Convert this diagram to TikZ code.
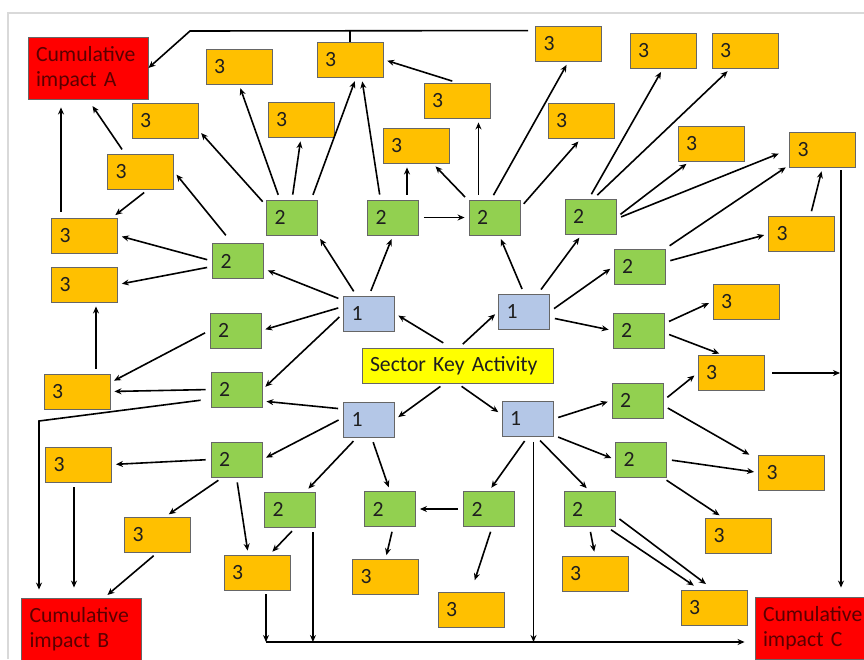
\documentclass[tikz,border=0pt]{standalone}
\usepackage{fontspec}
\setmainfont{Carlito}
\usepackage{tikz}
\usetikzlibrary{arrows.meta}
\definecolor{keyYellow}{HTML}{FFFF00}
\definecolor{lvlOne}{HTML}{B4C7E7}
\definecolor{lvlTwo}{HTML}{92D050}
\definecolor{lvlThree}{HTML}{FFC000}
\definecolor{impactRed}{HTML}{FF0000}
\definecolor{impactText}{HTML}{5A0000}
\tikzset{
    box/.style={rectangle, draw=black!60, line width=0.9pt, inner xsep=8pt, inner ysep=0pt, align=left, text=black!88, font=\fontsize{21.7}{25}\selectfont, execute at begin node={\hyphenpenalty10000\relax}},
    impact/.style={box, fill=impactRed, text=impactText, text width=104pt, minimum height=62pt},
    keyact/.style={box, fill=keyYellow, text width=175pt, minimum height=35pt},
    lvlone/.style={box, fill=lvlOne, text width=35pt, minimum height=35pt},
    lvltwo/.style={box, fill=lvlTwo, text width=35pt, minimum height=35pt},
    lvlthree/.style={box, fill=lvlThree, text width=50pt, minimum height=35pt},
    link/.style={-{Stealth[length=7pt,width=6pt]}, line width=1.6pt, shorten <=5pt, shorten >=4pt},
    feed/.style={-{Stealth[length=7pt,width=6pt]}, line width=1.6pt},
    wire/.style={line width=1.6pt}
}
\begin{document}
\begin{tikzpicture}[x=1pt, y=-1pt]
        \clip (0,0) rectangle (864,659);
        % Frame
        \draw[gray!30, line width=1.5pt] (8,659) -- (8,13) -- (864,13);

        % Centre and cumulative impacts
        \node[keyact] (ska) at (457.5,365.5) {Sector Key Activity};
        \node[impact] (cumA) at (88,68) {Cumulative\\impact A};
        \node[impact] (cumB) at (81.5,629) {Cumulative\\impact B};
        \node[impact] (cumC) at (815,628) {Cumulative\\impact C};

        % Level 1
        \foreach \n/\x/\y in {s1/369/313.5, s2/524/311.5, s3/369/419.5, s4/527.5/419}
            \node[lvlone] (\n) at (\x,\y) {1};

        % Level 2
        \foreach \n/\x/\y in {m1/292/217.5, m2/393/217.5, m3/494.5/217.5, m4/590.5/216.5,
            m5/238/261, m6/235.5/330.5, m7/236.5/389.5, m8/639.5/266.5, m9/638.5/330.5,
            m10/637.5/400.5, m11/236.5/459.5, m12/290/509.5, m13/390/509, m14/489/509,
            m15/589.5/509, m16/641/459.5}
            \node[lvltwo] (\n) at (\x,\y) {2};

        % Level 3
        \foreach \n/\x/\y in {t1/239/66.5, t2/350/59.5, t3/457/100.5, t4/568.5/43.5,
            t5/663/50.5, t6/745/50.5, t7/165/120.5, t8/301/119.5, t9/416/145.5,
            t10/581/120.5, t11/711/143.5, t12/822.5/149.5, t13/140.5/171.5,
            t14/84.5/235.5, t15/84.5/284.5, t16/801.5/234, t17/746/301.5, t18/731/373,
            t19/77/391.5, t20/78.5/464.5, t21/157.5/534.5, t22/257/572.5,
            t23/385.5/577, t24/471/609.5, t25/595/573.5, t26/791.5/472.5,
            t27/738.5/535.5, t28/714/608}
            \node[lvlthree] (\n) at (\x,\y) {3};

        % Joints of the collecting lines
        \coordinate (topL) at (190,31);
        \coordinate (botL) at (266,642);
        \coordinate (leftB) at (39,421);
        \coordinate (rightV) at ([xshift=18.5pt,yshift=-3pt]t12.south);
        \coordinate (m2pin) at ([xshift=14pt]m2.north);
        \coordinate (m3pin) at ([xshift=-16pt]m3.north);
        \coordinate (m12pin) at ([xshift=-3pt]m12.south east);
        \coordinate (s4pin) at ([xshift=6pt]s4.south);
        \coordinate (t14pin) at ([xshift=-23.5pt]t14.north);
        \coordinate (t19pin) at ([xshift=19pt]t19.north);
        \coordinate (t20pin) at ([xshift=-4.5pt]t20.south);

        % Key activity to level 1
        \draw[link, shorten <=9pt] (ska.110) -- (s1.east);
        \draw[link] (ska.85) -- (s2.west);
        \draw[link] (ska.234) -- (s3.east);
        \draw[link] (ska.south) -- (s4.170);

        % Level 1 to level 2
        \draw[link] (s1.125) -- (m1.south east);
        \draw[link] (s1.north) -- (m2.south);
        \draw[link] (s1.153) -- (m5.-17);
        \draw[link] (s1.165) -- (m6.east);
        \draw[link] (s1.west) -- (m7.east);
        \draw[link] (s3.158) -- (m7.-24);
        \draw[link] (s3.176) -- (m11.east);
        \draw[link] (s3.236) -- (m12.49);
        \draw[link] (s3.278) -- (m13.north);
        \draw[link] (s2.north) -- (m3.285);
        \draw[link] (s2.52) -- (m4.244);
        \draw[link] (s2.east) -- (m8.west);
        \draw[link] (s2.-13) -- (m9.west);
        \draw[link] (s4.east) -- (m10.west);
        \draw[link] (s4.-32) -- (m16.west);
        \draw[link] (s4.297) -- (m15.north);
        \draw[link] (s4.south) -- (m14.north);
        \draw[link] (m2.east) -- (m3.west);
        \draw[link] (m14.west) -- (m13.east);

        % Level 2 to level 3, top
        \draw[link] (m1.155) -- (t7.-16);
        \draw[link] (m1.124) -- (t1.south);
        \draw[link] (m1.north) -- (t8.south);
        \draw[link] (m1.43) -- (t2.-71);
        \draw[link] (m2.125) -- (t2.-57);
        \draw[link] (m2pin) -- (m2pin |- t9.south);
        \draw[link] (m3.147) -- (t9.-47);
        \draw[link] (m3pin) -- (m3pin |- t3.south);
        \draw[link] (m3.101) -- (t4.south);
        \draw[link] (m3.21) -- (t10.south);
        \draw[link] (t3.north) -- (t2.east);
        \draw[link] (m4.95) -- (t5.south);
        \draw[link] (m4.80) -- (t6.231);
        \draw[link] (m4.-2) -- (t11.220);
        \draw[link, shorten >=11pt] (m4.-5) -- (t12.west);

        % Level 2 to level 3, right
        \draw[link] (m8.north east) -- (t12.205);
        \draw[link] (m8.10) -- (t16.west);
        \draw[link] (t16.64) -- (t12.south);
        \draw[link] (m9.15) -- (t17.west);
        \draw[link] (m9.-5) -- (t18.114);
        \draw[link] (m10.east) -- (t18.west);
        \draw[link, shorten >=10pt] (m10.-11) -- (t26.159);
        \draw[link] (m16.east) -- (t26.west);
        \draw[link] (m16.-40) -- (t27.131);

        % Level 2 to level 3, bottom
        \draw[link] (m15.south) -- (t25.north);
        \draw[link, shorten >=10pt] (m15.-15) -- (t28.north);
        \draw[link, shorten >=8pt] (m15.-46) -- (t28.127);
        \draw[link] (m13.-80) -- (t23.north);
        \draw[link, shorten >=12pt] (m14.-80) -- (t24.north);
        \draw[link] (m12.-73) -- (t22.55);
        \draw[link] (m11.west) -- (t20.east);
        \draw[link] (m11.232) -- (t21.66);
        \draw[link] (m11.south) -- (t22.116);

        % Level 2 to level 3, left
        \draw[link] (m5.west) -- (t14.east);
        \draw[link] (m5.192) -- (t15.east);
        \draw[link, shorten <=10pt] (m5.108) -- (t13.east);
        \draw[link] (m6.west) -- (t19.15);
        \draw[link] (m7.west) -- (t19.east);
        \draw[link] (t19pin) -- (t19pin |- t15.south);
        \draw[link] (t13.-67) -- (t14.33);

        % Into cumulative impact A
        \draw[link, shorten >=8pt] (t13.131) -- (cumA.south);
        \draw[link, shorten <=6pt, shorten >=8pt] (t14pin) -- (t14pin |- cumA.south);
        \draw[feed, shorten <=7pt] ([yshift=-5pt]t4.north west) -- (topL) -- (cumA.east);
        \draw[wire] (t2.north) -- (t2.north |- topL);

        % Into cumulative impact B
        \draw[feed, shorten <=10pt, shorten >=8pt] (m7.200) -- (leftB) -- (leftB |- cumB.north);
        \draw[link, shorten >=10pt] (t20pin) -- (t20pin |- cumB.north);
        \draw[link] (t21.south) -- (cumB.54);

        % Into cumulative impact C
        \draw[feed, shorten <=4pt] ([xshift=9pt]t22.south) -- (botL);
        \draw[feed, shorten >=10pt] (botL) -- (botL -| cumC.west);
        \draw[link, shorten >=0pt] (m12pin) -- (m12pin |- botL);
        \draw[link, shorten >=0pt] (s4pin) -- (s4pin |- botL);
        \draw[feed, shorten >=9pt] (rightV) -- (rightV |- cumC.north);
        \draw[link, shorten <=8pt, shorten >=1pt] (t18.east) -- (t18.east -| rightV);
    \end{tikzpicture}
\end{document}
